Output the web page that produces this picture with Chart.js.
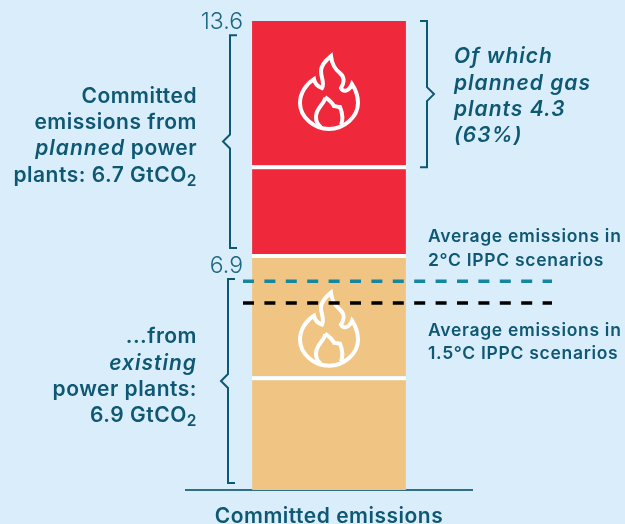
<!DOCTYPE html>
<html>
<head>
<meta charset="utf-8">
<style>
  html, body { margin: 0; padding: 0; background: #d9eefa; }
  canvas { display: block; }
</style>
<script src="https://cdn.jsdelivr.net/npm/chart.js@4"></script>
</head>
<body>
<canvas id="chart" width="625" height="524"></canvas>
<script>
const categories = ['Committed emissions'];

// stacked segments, bottom to top
const existingLower = [3.3];
const existingUpper = [3.54];
const plannedLower = [2.58];
const plannedUpper = [4.18];

// scenario averages
const scenario2C = [6.05];
const scenario15C = [5.42];

const yTicks = ['13.6', '6.9'];
const yTickValues = [13.6, 6.84];

const TEAL = '#0f5873';
const FONT = 'Inter, "Open Sans", sans-serif';

// brackets: from value, to value, x of the spine, side the brace point goes
const brackets = [
  { from: 13.19, to: 7.02, x: 230, dir: -1 },
  { from: 6.12, to: 0.2, x: 228, dir: -1 },
  { from: 13.6, to: 9.36, x: 427, dir: 1 }
];

// text blocks, each run is [text, kind] with kind 1 italic and 2 subscript
const textLines = [
  { x: 197, y: 103, align: 'right', runs: [['Committed', 0]] },
  { x: 197, y: 129, align: 'right', runs: [['emissions from', 0]] },
  { x: 197, y: 155, align: 'right', runs: [['planned', 1], [' power', 0]] },
  { x: 197, y: 182, align: 'right', runs: [['plants: 6.7 GtCO', 0], ['2', 2]] },
  { x: 197, y: 343, align: 'right', runs: [['...from', 0]] },
  { x: 197, y: 370, align: 'right', runs: [['existing', 1]] },
  { x: 197, y: 396, align: 'right', runs: [['power plants:', 0]] },
  { x: 197, y: 422, align: 'right', runs: [['6.9 GtCO', 0], ['2', 2]] },
  { x: 454, y: 63, align: 'left', runs: [['Of which', 1]] },
  { x: 454, y: 90, align: 'left', runs: [['planned gas', 1]] },
  { x: 454, y: 116, align: 'left', runs: [['plants 4.3', 1]] },
  { x: 454, y: 142, align: 'left', runs: [['(63%)', 1]] },
  { x: 428, y: 242, align: 'left', size: 17.5, runs: [['Average emissions in', 0]] },
  { x: 428, y: 266, align: 'left', size: 17.5, runs: [['2°C IPPC scenarios', 0]] },
  { x: 428, y: 336, align: 'left', size: 17.5, runs: [['Average emissions in', 0]] },
  { x: 428, y: 359, align: 'left', size: 17.5, runs: [['1.5°C IPPC scenarios', 0]] }
];

const flameOuter = new Path2D('M2,-37 C3,-28 6,-24 11,-20 C17,-15 14,-8 12,-5 C14,-1 20,-1 23,-9 C27,-3 29,4 29,10 C29,24 15,36 0,36 C-15,36 -29,24 -29,10 C-29,0 -23,-9 -15,-14 C-14,-9 -10,-6 -7,-5 C-4,-10 -8,-15 -8,-22 C-8,-28 -3,-33 2,-37 Z');
const flameInner = new Path2D('M-4,4 C-1,6 3,9 5,13 C7,13 9,14 11,14 C13,19 15,25 12,32 M-4,4 C-3,10 -13,14 -13,24 C-13,28 -11,32 -8,34');

function drawRuns(ctx, line) {
  const size = line.size || 21;
  const fontFor = (kind) => {
    if (kind === 2) return `600 ${size * 0.74}px ${FONT}`;
    return `${kind === 1 ? 'italic ' : ''}600 ${size}px ${FONT}`;
  };
  const spacing = (kind) => (line.size ? '0.7px' : kind === 1 ? '1px' : '0.5px');
  let total = 0;
  line.runs.forEach(([t, kind]) => {
    ctx.font = fontFor(kind);
    ctx.letterSpacing = spacing(kind);
    total += ctx.measureText(t).width;
  });
  let x = line.align === 'right' ? line.x - total : line.x;
  ctx.textAlign = 'left';
  ctx.textBaseline = 'alphabetic';
  ctx.fillStyle = TEAL;
  line.runs.forEach(([t, kind]) => {
    ctx.font = fontFor(kind);
    ctx.letterSpacing = spacing(kind);
    ctx.fillText(t, x, line.y + (kind === 2 ? 4 : 0));
    x += ctx.measureText(t).width;
  });
}

function drawBracket(ctx, top, bottom, x, dir) {
  const mid = (top + bottom) / 2;
  ctx.beginPath();
  ctx.moveTo(x - dir * 7, top);
  ctx.lineTo(x, top);
  ctx.lineTo(x, mid - 7);
  ctx.lineTo(x + dir * 7, mid);
  ctx.lineTo(x, mid + 7);
  ctx.lineTo(x, bottom);
  ctx.lineTo(x - dir * 7, bottom);
  ctx.stroke();
}

const extras = {
  id: 'extras',
  beforeDraw(chart) {
    chart.ctx.letterSpacing = '0.5px';
  },
  afterDatasetsDraw(chart) {
    const { ctx, scales } = chart;
    const y = scales.y;
    const cx = scales.x.getPixelForValue(0);

    ctx.save();
    ctx.strokeStyle = '#ffffff';
    ctx.lineWidth = 4;
    [11.51, 4.65].forEach((v) => {
      ctx.save();
      ctx.translate(cx, y.getPixelForValue(v));
      ctx.stroke(flameOuter);
      ctx.stroke(flameInner);
      ctx.restore();
    });

    // dashed scenario lines run from just left of the bar to past the axis
    ctx.lineWidth = 3.5;
    ctx.setLineDash([11, 10.4]);
    [[scenario2C, '#15869f'], [scenario15C, '#000000']].forEach(([values, color]) => {
      const py = y.getPixelForValue(values[0]);
      ctx.strokeStyle = color;
      ctx.beginPath();
      ctx.moveTo(cx - 86, py);
      ctx.lineTo(cx + 223, py);
      ctx.stroke();
    });
    ctx.setLineDash([]);

    ctx.strokeStyle = TEAL;
    ctx.lineWidth = 2;
    brackets.forEach((b) => {
      drawBracket(ctx, y.getPixelForValue(b.from), y.getPixelForValue(b.to), b.x, b.dir);
    });

    ctx.fillStyle = '#1d6784';
    ctx.font = `300 23px ${FONT}`;
    ctx.letterSpacing = '0px';
    ctx.textAlign = 'right';
    ctx.textBaseline = 'alphabetic';
    yTicks.forEach((t, i) => {
      ctx.fillText(t, 243, y.getPixelForValue(yTickValues[i]) + (i === 0 ? 8 : 19));
    });

    textLines.forEach((l) => drawRuns(ctx, l));
    ctx.restore();
  }
};

function bar(values, color, border) {
  return {
    type: 'bar',
    data: values,
    backgroundColor: color,
    borderColor: '#ffffff',
    borderWidth: border ? { top: 4, left: 0, right: 0, bottom: 0 } : 0,
    borderSkipped: false,
    inflateAmount: 0,
    barPercentage: 0.538,
    categoryPercentage: 1
  };
}

new Chart(document.getElementById('chart'), {
  type: 'bar',
  data: {
    labels: categories,
    datasets: [
      bar(existingLower, '#f0c583', true),
      bar(existingUpper, '#f0c583', true),
      bar(plannedLower, '#f0283b', true),
      bar(plannedUpper, '#f0283b', false)
    ]
  },
  plugins: [extras],
  options: {
    responsive: false,
    animation: false,
    layout: { padding: { left: 186, right: 153, top: 21, bottom: 0 } },
    plugins: { legend: { display: false }, tooltip: { enabled: false } },
    scales: {
      x: {
        stacked: true,
        afterFit(scale) { scale.height = 34; },
        grid: { display: false, drawTicks: false },
        border: { color: '#2f6f8b', width: 2 },
        ticks: { color: TEAL, padding: 14, maxRotation: 0, font: { family: FONT, size: 21, weight: '600' } }
      },
      y: { stacked: true, display: false, min: 0, max: 13.6 }
    }
  }
});
</script>
</body>
</html>
